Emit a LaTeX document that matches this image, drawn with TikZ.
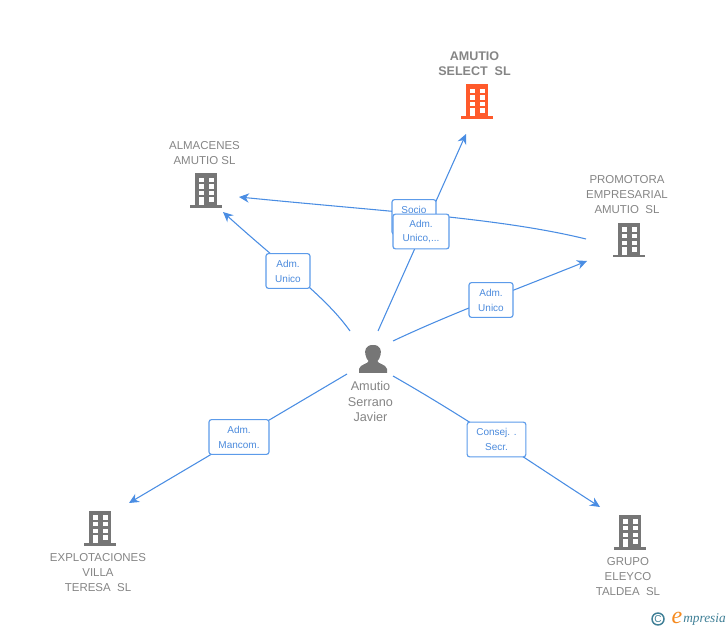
\documentclass[tikz,border=0pt]{standalone}
\usepackage{fontspec}
\setmainfont{Liberation Sans}
\newfontfamily\logofont{Liberation Serif}
\usetikzlibrary{arrows.meta}
\definecolor{linkblue}{HTML}{4A8DE3}
\definecolor{boxblue}{HTML}{5C9BEA}
\definecolor{rolefont}{HTML}{4C8BDD}
\definecolor{namegray}{HTML}{858585}
\definecolor{iconorange}{HTML}{FF5A2B}
\definecolor{icongray}{HTML}{767676}
\definecolor{logoteal}{HTML}{3F7F96}
\definecolor{logoorange}{HTML}{F58A1F}
\tikzset{
  link/.style={draw=linkblue,line width=0.8pt,-{Stealth[length=7.5pt,width=7pt]}},
  rolebox/.style={draw=boxblue,line width=0.85pt,rounded corners=1.8pt,fill=white,text=rolefont,
    font=\fontsize{7.5}{11.2}\selectfont,align=center,inner sep=0pt,minimum height=26pt},
  firm/.style={text=namegray,font=\fontsize{8.6}{11.2}\selectfont,align=center,inner sep=0pt},
  person/.style={text=namegray,font=\fontsize{9.5}{11.4}\selectfont,align=center,inner sep=0pt},
  pics/building/.style={code={
    \fill[#1] (-11,-17) rectangle (11,15);
    \fill[#1] (-16,14.8) rectangle (16,17.5);
    \foreach \r/\h in {-12.6/4.2,-6/4.3,0.7/4.3} \foreach \c in {-7,2.6}
      \fill[white] (\c,\r) rectangle (\c+5.4,\r+\h);
    \fill[white] (2.6,7) rectangle (8,11.6);
    \fill[white] (-7,7) rectangle (-1.6,15);
  }},
}
\begin{document}
\begin{tikzpicture}[x=0.75pt,y=-0.75pt]
  \useasboundingbox (0,0) rectangle (728,630);
  % firms
  \pic at (477,101.5) {building=iconorange};
  \pic at (206,190.5) {building=icongray};
  \pic at (629,240) {building=icongray};
  \pic at (100,528) {building=icongray};
  \pic at (630,532) {building=icongray};
  \node[firm,font=\fontsize{9.4}{11.2}\selectfont\bfseries] (select) at (474.5,63.5) {AMUTIO\\SELECT\ \ SL};
  \node[firm] (almacenes) at (204.5,153) {ALMACENES\\AMUTIO SL};
  \node[firm] (promotora) at (627,194.5) {PROMOTORA\\EMPRESARIAL\\AMUTIO\ \ SL};
  \node[firm] (explotaciones) at (98,572.5) {EXPLOTACIONES\\VILLA\\TERESA\ \ SL};
  \node[firm] (grupo) at (628,576.5) {GRUPO\\ELEYCO\\TALDEA\ \ SL};
  % person
  \fill[icongray] (373,345) .. controls (365,345) and (364.5,351) .. (365.5,355)
    .. controls (366,358) and (367.5,360) .. (368.5,361) .. controls (368.5,364) and (360,364) .. (359,369)
    -- (359,373) -- (387,373) -- (387,369)
    .. controls (386,364) and (377.5,364) .. (377.5,361) .. controls (378.5,360) and (380,358) .. (380.5,355)
    .. controls (381.5,351) and (381,345) .. (373,345) -- cycle;
  \node[person] (amutio) at (370.5,401.5) {Amutio\\Serrano\\Javier};
  % free ends of the links
  \coordinate (p1) at (350,331); \coordinate (p2) at (378,331); \coordinate (p3) at (393,341);
  \coordinate (p4) at (347,374); \coordinate (p5) at (393,376); \coordinate (q0) at (586,239);
  \coordinate (a1) at (223,212); \coordinate (a2) at (239,197); \coordinate (s1) at (466,134);
  \coordinate (r1) at (587,261); \coordinate (e1) at (129,503); \coordinate (g1) at (600,507);
  \draw[link] (q0) .. controls (500,218) and (390,212) .. (a2);
  \draw[link] (p1) .. controls (325,296) and (285,268) .. (a1);
  \draw[link] (p2) -- (s1);
  \draw[link] (p3) .. controls (450,314) and (520,288) .. (r1);
  \draw[link] (p4) -- (e1);
  \draw[link] (p5) .. controls (470,420) and (530,462) .. (g1);
  % roles
  \node[rolebox,minimum width=33pt] (socio) at (414,217) {Socio\\\phantom{x}};
  \node[rolebox,minimum width=42pt] (unico) at (421,231.5) {Adm.\\Unico,...};
  \node[rolebox,minimum width=33pt] (almrole) at (288,271) {Adm.\\Unico};
  \node[rolebox,minimum width=33pt] (prorole) at (491,300) {Adm.\\Unico};
  \node[rolebox,minimum width=45pt] (mancom) at (239,437) {Adm.\\Mancom.};
  \node[rolebox,minimum width=44pt] (consej) at (496.5,439.5) {Consej. .\\Secr.};
  % logo
  \node[circle,draw=logoteal,line width=1.1pt,text=logoteal,inner sep=0pt,minimum size=9pt,font=\fontsize{7.5}{8}\selectfont] (copyr) at (658,619) {C};
  \node[text=logoorange,font=\logofont\itshape\fontsize{18}{18}\selectfont,inner sep=0pt] (logoe) at (677,618) {e};
  \node[text=logoteal,font=\logofont\itshape\fontsize{10}{10}\selectfont,inner sep=0pt,anchor=west] (logotext) at (683,620) {mpresia};
\end{tikzpicture}
\end{document}
